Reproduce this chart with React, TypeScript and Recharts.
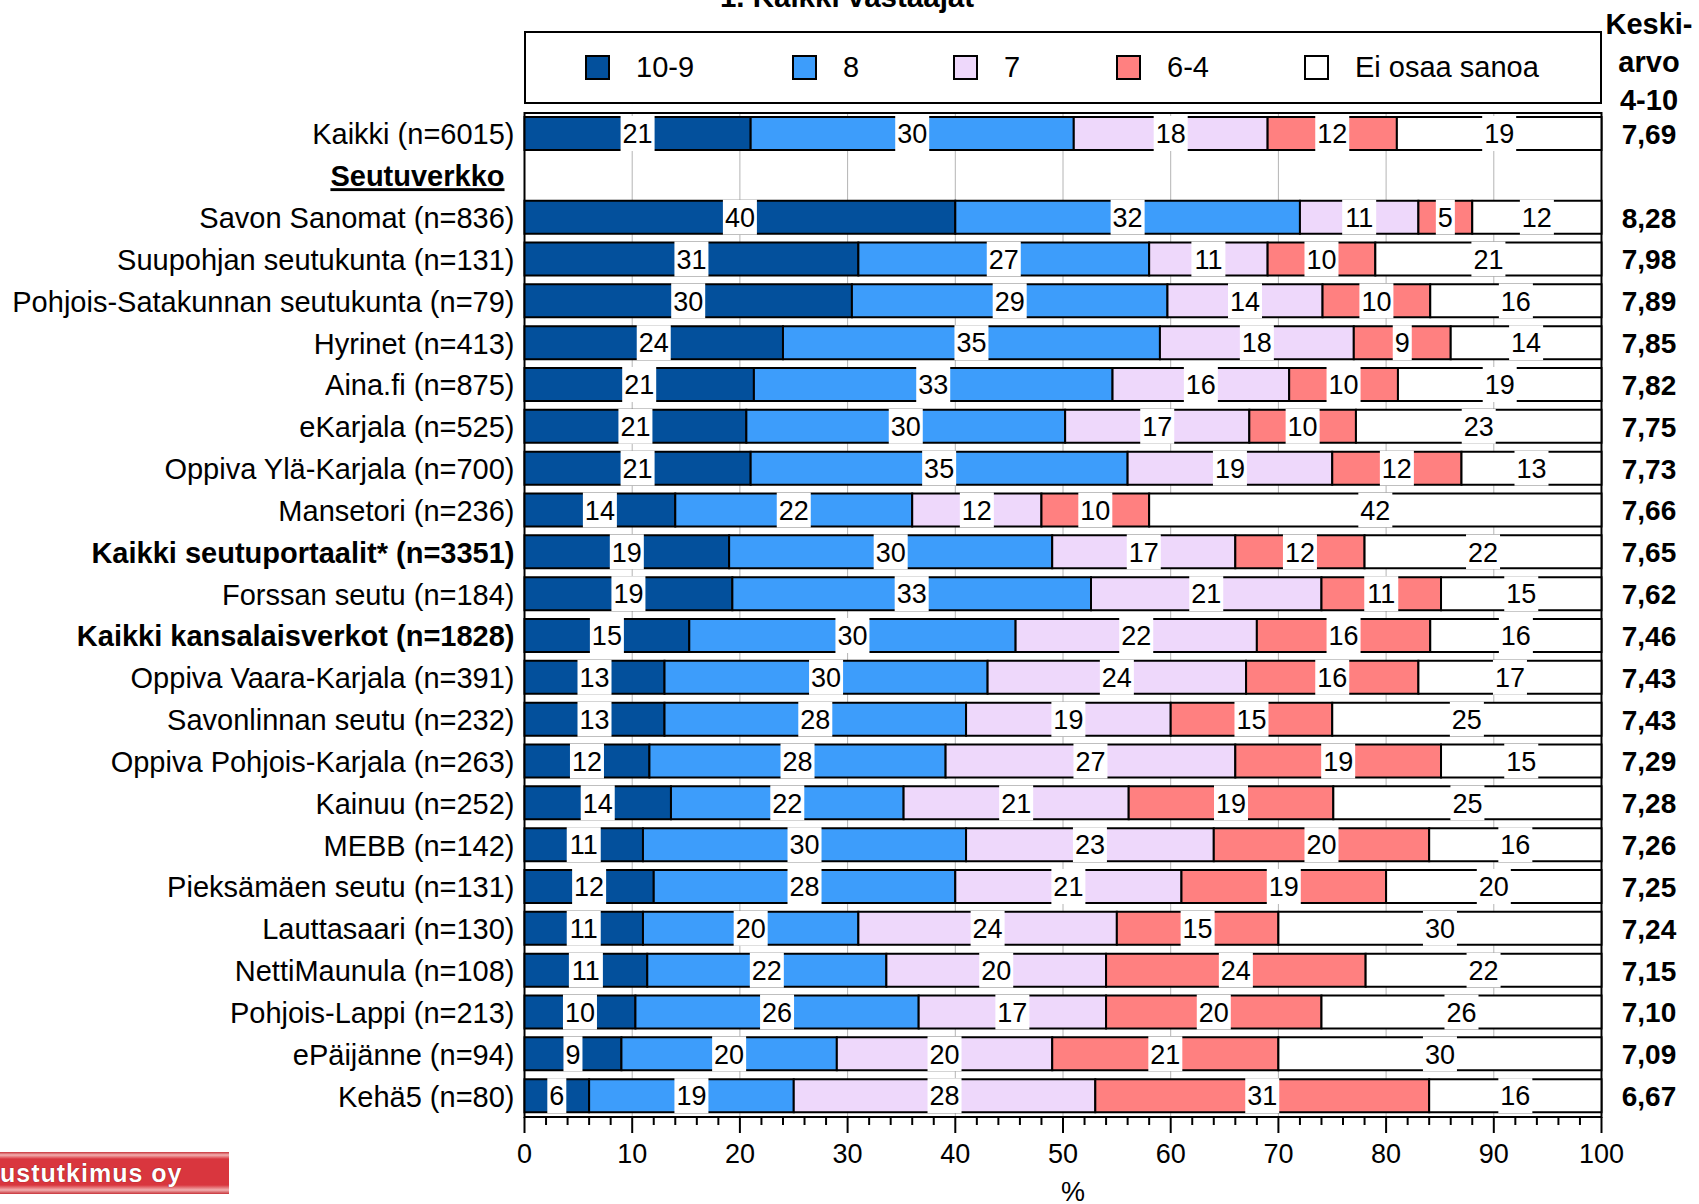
import React from "react";
import {
  BarChart,
  Bar,
  XAxis,
  YAxis,
  CartesianGrid,
  LabelList,
  ReferenceArea,
} from "recharts";

const categories = [
  "Kaikki (n=6015)",
  "Seutuverkko",
  "Savon Sanomat (n=836)",
  "Suupohjan seutukunta (n=131)",
  "Pohjois-Satakunnan seutukunta (n=79)",
  "Hyrinet (n=413)",
  "Aina.fi (n=875)",
  "eKarjala (n=525)",
  "Oppiva Ylä-Karjala (n=700)",
  "Mansetori (n=236)",
  "Kaikki seutuportaalit* (n=3351)",
  "Forssan seutu (n=184)",
  "Kaikki kansalaisverkot (n=1828)",
  "Oppiva Vaara-Karjala (n=391)",
  "Savonlinnan seutu (n=232)",
  "Oppiva Pohjois-Karjala (n=263)",
  "Kainuu (n=252)",
  "MEBB (n=142)",
  "Pieksämäen seutu (n=131)",
  "Lauttasaari (n=130)",
  "NettiMaunula (n=108)",
  "Pohjois-Lappi (n=213)",
  "ePäijänne (n=94)",
  "Kehä5 (n=80)",
];

// % shares per answer group (null = section header row)
const v109 = [21, null, 40, 31, 30.4, 24, 21.3, 20.6, 21, 14, 19, 19.3, 15.3, 13, 13, 11.6, 13.6, 11, 12, 11, 11.4, 10.3, 9, 6];
const v8 = [30, null, 32, 27, 29.3, 35, 33.3, 29.6, 35, 22, 30, 33.3, 30.3, 30, 28, 27.5, 21.6, 30, 28, 20, 22.2, 26.3, 20, 19];
const v7 = [18, null, 11, 11, 14.4, 18, 16.4, 17.1, 19, 12, 17, 21.4, 22.4, 24, 19, 26.9, 20.9, 23, 21, 24, 20.4, 17.4, 20, 28];
const v64 = [12, null, 5, 10, 10.0, 9, 10.1, 9.9, 12, 10, 12, 11.1, 16.1, 16, 15, 19.1, 19.0, 20, 19, 15, 24.1, 20.0, 21, 31];
const vEos = [19, null, 12, 21, 15.9, 14, 18.9, 22.8, 13, 42, 22, 14.9, 15.9, 17, 25, 14.9, 24.9, 16, 20, 30, 21.9, 26.0, 30, 16];

const averages = [
  "7,69", "", "8,28", "7,98", "7,89", "7,85", "7,82", "7,75", "7,73", "7,66", "7,65", "7,62",
  "7,46", "7,43", "7,43", "7,29", "7,28", "7,26", "7,25", "7,24", "7,15", "7,10", "7,09", "6,67",
];

const seriesNames = ["10-9", "8", "7", "6-4", "Ei osaa sanoa"];
const xTicks = [0, 2, 4, 6, 8, 10, 12, 14, 16, 18, 20, 22, 24, 26, 28, 30, 32, 34, 36, 38, 40, 42, 44, 46, 48, 50, 52, 54, 56, 58, 60, 62, 64, 66, 68, 70, 72, 74, 76, 78, 80, 82, 84, 86, 88, 90, 92, 94, 96, 98, 100];
const gridTicks = [0, 10, 20, 30, 40, 50, 60, 70, 80, 90, 100];

const boldRows = ["Kaikki seutuportaalit* (n=3351)", "Kaikki kansalaisverkot (n=1828)"];
const headerRows = ["Seutuverkko"];

const colors = ["#03509c", "#3d9dfb", "#eed8fb", "#ff8080", "#ffffff"];
const keys = ["v109", "v8", "v7", "v64", "vEos"];

const data = categories.map((name, i) => ({
  name,
  v109: v109[i],
  v8: v8[i],
  v7: v7[i],
  v64: v64[i],
  vEos: vEos[i],
  avg: averages[i],
}));

const FONT = "'Liberation Sans', Arial, Helvetica, sans-serif";

const renderLabel = (p: any) => {
  const { x, y, width, height, value } = p;
  if (value == null || !width) return null;
  const txt = String(Math.round(Number(value)));
  const w = txt.length * 15 + 4;
  const cx = Number(x) + Number(width) / 2;
  return (
    <g>
      <rect x={cx - w / 2} y={Number(y) - 1} width={w} height={Number(height) + 2} fill="#fff" />
      <text x={cx} y={Number(y) + Number(height) / 2} dy="0.36em" textAnchor="middle" fontSize={27} fontFamily={FONT} fill="#000">
        {txt}
      </text>
    </g>
  );
};

const LeftTick = (p: any) => {
  const { x, y, payload } = p;
  const name = payload.value;
  const isHeader = headerRows.includes(name);
  const isBold = isHeader || boldRows.includes(name);
  return (
    <text
      x={isHeader ? x - 10 : x}
      y={y}
      dy="0.36em"
      textAnchor="end"
      fontSize={29}
      fontFamily={FONT}
      fontWeight={isBold ? "bold" : "normal"}
      textDecoration={isHeader ? "underline" : undefined}
      fill="#000"
    >
      {name}
    </text>
  );
};

const AvgTick = (p: any) => {
  const { y, payload } = p;
  const idx = categories.indexOf(payload.value);
  return (
    <text x={1649} y={y} dy="0.36em" textAnchor="middle" fontSize={28} fontWeight="bold" fontFamily={FONT} fill="#000">
      {averages[idx]}
    </text>
  );
};

const XTick = (p: any) => {
  const { x, y, payload } = p;
  const v = payload.value;
  const major = v % 10 === 0;
  return (
    <g>
      <line x1={x} x2={x} y1={y} y2={y + (major ? 16 : 8)} stroke="#000" strokeWidth={2} />
      {major && (
        <text x={x} y={y + 46} textAnchor="middle" fontSize={27} fontFamily={FONT} fill="#000">
          {v}
        </text>
      )}
    </g>
  );
};

const legendLeft = [585, 792, 953, 1116, 1304];

export default function App() {
  return (
    <div style={{ position: "absolute", left: 0, top: 0, width: 1699, height: 1204, background: "#fff", fontFamily: FONT }}>
      <div style={{ position: "absolute", left: 547, top: -18, width: 600, textAlign: "center", fontSize: 29.5, lineHeight: "29.5px", fontWeight: "bold" }}>
        1. Kaikki vastaajat
      </div>

      <div style={{ position: "absolute", left: 1604, top: 5, width: 90, textAlign: "center", fontSize: 29, lineHeight: "38px", fontWeight: "bold" }}>
        Keski-
        <br />
        arvo
        <br />
        4-10
      </div>

      <BarChart
        width={1699}
        height={1204}
        data={data}
        layout="vertical"
        barSize={33}
        margin={{ top: 113, right: 17.5, bottom: 27, left: 14.5 }}
      >
        <CartesianGrid
          horizontal={false}
          stroke="#b4b4b4"
          verticalCoordinatesGenerator={({ xAxis, offset }: any) =>
            gridTicks.map((t) =>
              xAxis && typeof xAxis.scale === "function" ? xAxis.scale(t) : offset.left + (t / 100) * offset.width
            )
          }
        />
        <XAxis
          type="number"
          domain={[0, 100]}
          ticks={xTicks}
          interval={0}
          height={60}
          tickLine={false}
          tickSize={0}
          tickMargin={0}
          tick={<XTick />}
          axisLine={{ stroke: "#000", strokeWidth: 2 }}
        />
        <YAxis
          type="category"
          dataKey="name"
          width={510}
          interval={0}
          tickLine={false}
          tickSize={0}
          tickMargin={10}
          axisLine={false}
          tick={<LeftTick />}
        />
        <YAxis
          yAxisId="avg"
          type="category"
          dataKey="name"
          orientation="right"
          width={80}
          interval={0}
          tickLine={false}
          axisLine={false}
          tick={<AvgTick />}
        />
        {keys.map((k, i) => (
          <Bar
            key={k}
            dataKey={k}
            name={seriesNames[i]}
            stackId="a"
            fill={colors[i]}
            stroke="#000"
            strokeWidth={2}
            isAnimationActive={false}
          >
            <LabelList dataKey={k} content={renderLabel} />
          </Bar>
        ))}
        <ReferenceArea x1={0} x2={100} fill="none" fillOpacity={0} stroke="#000" strokeWidth={2} ifOverflow="visible" />
      </BarChart>

      <div style={{ position: "absolute", left: 524, top: 31, width: 1074, height: 69, border: "2px solid #000" }}>
        {seriesNames.map((n, i) => (
          <div key={n} style={{ position: "absolute", left: legendLeft[i] - 526, top: 0, height: 69, display: "flex", alignItems: "center" }}>
            <div style={{ width: 21, height: 21, background: colors[i], border: "2px solid #000" }} />
            <span style={{ marginLeft: 26, fontSize: 29 }}>{n}</span>
          </div>
        ))}
      </div>

      <div style={{ position: "absolute", left: 1073 - 20, top: 1181, width: 40, textAlign: "center", fontSize: 27, lineHeight: "22px" }}>%</div>

      <div
        style={{
          position: "absolute",
          left: 0,
          top: 1152,
          width: 229,
          height: 42,
          background: "linear-gradient(to bottom, #c8343a 0px, #f2b0b0 3px, #d9363e 7px, #d9363e 33px, #f2b0b0 38px, #c8343a 42px)",
          color: "#fff",
          fontWeight: "bold",
          fontSize: 25,
          lineHeight: "42px",
          letterSpacing: 1,
          overflow: "hidden",
          whiteSpace: "nowrap",
          textShadow: "0 0 1px #600",
        }}
      >
        ustutkimus oy
      </div>
    </div>
  );
}
